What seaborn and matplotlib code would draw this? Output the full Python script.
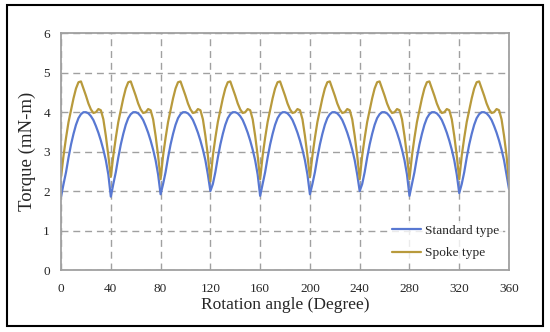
import matplotlib
matplotlib.use("Agg")
import matplotlib.pyplot as plt
import seaborn as sns
import pandas as pd
from matplotlib.patches import Rectangle

# ---- data ----
cycle_offsets = [0, 2, 4, 6, 8, 10, 12, 14, 16, 18, 20, 22, 24, 26, 28, 30, 32, 34, 36, 38]
cycle_starts = [0, 40, 80, 120, 160, 200, 240, 280, 320]
standard_profile = [1.86, 2.18, 2.48, 2.85, 3.18, 3.45, 3.68, 3.85, 3.95, 4.0,
                    4.0, 3.97, 3.9, 3.8, 3.65, 3.48, 3.28, 3.05, 2.78, 2.42]
spoke_profile = [2.36, 2.9, 3.35, 3.75, 4.05, 4.35, 4.6, 4.76, 4.78, 4.6,
                 4.42, 4.22, 4.07, 3.98, 4.0, 4.08, 4.05, 3.82, 3.4, 2.9]
standard_minima = [1.86, 1.86, 1.92, 2.0, 1.88, 1.92, 2.0, 1.88, 1.95, 2.05]
spoke_minima = [2.36, 2.36, 2.3, 2.25, 2.3, 2.35, 2.3, 2.3, 2.3, 2.2]
x_ticks = [0, 40, 80, 120, 160, 200, 240, 280, 320, 360]
y_ticks = [0, 1, 2, 3, 4, 5, 6]
series_names = ["Standard type", "Spoke type"]

rows = []
for k, start in enumerate(cycle_starts):
    for j, off in enumerate(cycle_offsets):
        s = standard_minima[k] if j == 0 else standard_profile[j]
        p = spoke_minima[k] if j == 0 else spoke_profile[j]
        rows.append((start + off, s, p))
rows.append((360, standard_minima[-1], spoke_minima[-1]))
df = pd.DataFrame(rows, columns=["angle", series_names[0], series_names[1]])
long = df.melt(id_vars="angle", var_name="Type", value_name="Torque")

sns.set_theme(style="white")
plt.rcParams["font.family"] = ["Liberation Serif", "DejaVu Serif"]

fig = plt.figure(figsize=(5.5, 3.32), dpi=100)
ax = fig.add_axes([0.111, 0.1867, 0.8145, 0.713])

palette = {"Standard type": "#5878D2", "Spoke type": "#B89A3C"}
sns.lineplot(data=long, x="angle", y="Torque", hue="Type", palette=palette,
             linewidth=1.6, ax=ax, legend=True)

ax.set_xlim(0, 360)
ax.set_ylim(0, 6)
ax.set_xticks(x_ticks)
ax.set_yticks(y_ticks)
ax.grid(True, color="#A0A0A0", linestyle=(0, (5, 3.5)), linewidth=1.0)
ax.set_axisbelow(True)
for sp in ax.spines.values():
    sp.set_color("#A0A0A0")
    sp.set_linewidth(1.3)
    sp.set_zorder(3)
ax.tick_params(axis="x", length=4, color="#A0A0A0", width=1, pad=5, labelsize=9.5)
ax.tick_params(axis="y", length=0, pad=8, labelsize=9.5)
ax.set_xlabel("Rotation angle (Degree)", fontsize=12.5, labelpad=2)
ax.set_ylabel("Torque (mN-m)", fontsize=13.5, labelpad=5)

leg = ax.legend(loc="lower right", bbox_to_anchor=(1.002, 0.0), frameon=True,
                fontsize=9.6, handlelength=2.2, handletextpad=0.3, labelspacing=0.75,
                borderpad=0.3)
leg.get_frame().set_edgecolor("none")
leg.get_frame().set_facecolor("white")

fig.patches.append(Rectangle((7 / 550, 1 - 326 / 332), 536 / 550, 321 / 332,
                             transform=fig.transFigure, fill=False,
                             edgecolor="black", linewidth=1.5))

fig.savefig("out.png", dpi=100)
